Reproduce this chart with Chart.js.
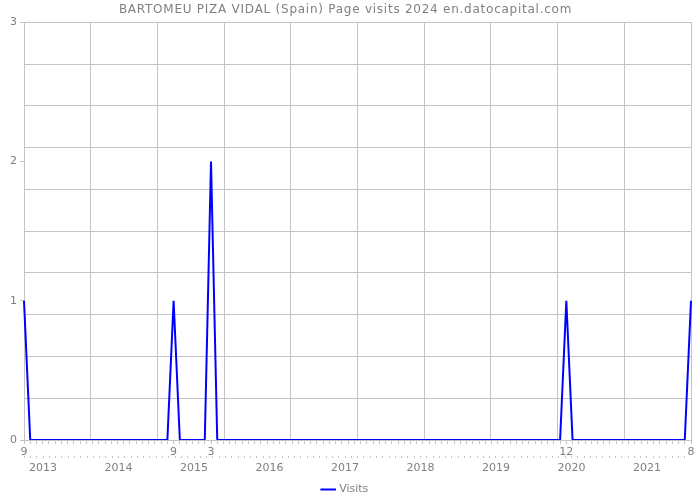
<!DOCTYPE html>
<html>
<head>
<meta charset="utf-8">
<script src="https://cdn.jsdelivr.net/npm/chart.js@4/dist/chart.umd.min.js"></script>
<style>
html,body{margin:0;padding:0;background:#fff;}
#wrap{width:700px;height:500px;}
</style>
</head>
<body>
<div id="wrap"><canvas id="c" width="700" height="500"></canvas></div>
<script>
// Months from 2012-09 to 2021-08
const months = [];
for (let y = 2012, m = 9; y < 2021 || (y === 2021 && m <= 8); m++) {
  if (m > 12) { m = 1; y++; }
  months.push(y + '-' + String(m).padStart(2, '0'));
}
const visits = [
  1,0,0,0,                  // 2012 Sep-Dec
  0,0,0,0,0,0,0,0,0,0,0,0,  // 2013
  0,0,0,0,0,0,0,0,1,0,0,0,  // 2014
  0,0,2,0,0,0,0,0,0,0,0,0,  // 2015
  0,0,0,0,0,0,0,0,0,0,0,0,  // 2016
  0,0,0,0,0,0,0,0,0,0,0,0,  // 2017
  0,0,0,0,0,0,0,0,0,0,0,0,  // 2018
  0,0,0,0,0,0,0,0,0,0,0,1,  // 2019
  0,0,0,0,0,0,0,0,0,0,0,0,  // 2020
  0,0,0,0,0,0,0,1           // 2021 Jan-Aug
];
const monthTickLabels = ['2012-09','2014-09','2015-03','2019-12','2021-08'];
const yearTickLabels = [2013,2014,2015,2016,2017,2018,2019,2020,2021];
const yTicks = [0,1,2,3];
// range of the year-label axis (in years)
const yearAxisMin = 2012.748;
const yearAxisMax = 2021.583;

const FONT = "'DejaVu Sans', sans-serif";
const gridColor = '#c4c4c4';
const textColor = '#808080';

const chart = new Chart(document.getElementById('c'), {
  type: 'line',
  data: {
    labels: months,
    datasets: [{
      label: 'Visits',
      data: visits,
      borderColor: '#0000ff',
      backgroundColor: '#0000ff',
      borderWidth: 2,
      pointRadius: 0,
      tension: 0,
      xAxisID: 'x',
      yAxisID: 'y'
    }]
  },
  options: {
    responsive: false,
    animation: false,
    layout: { padding: { left: 0, right: 9, top: 0, bottom: -5 } },
    plugins: {
      title: {
        display: true,
        text: 'BARTOMEU PIZA VIDAL (Spain) Page visits 2024 en.datocapital.com',
        color: textColor,
        font: { family: FONT, size: 12, weight: 'normal' },
        padding: { top: 3, bottom: 5 }
      },
      legend: {
        position: 'bottom',
        labels: {
          color: textColor,
          font: { family: FONT, size: 11 },
          usePointStyle: true,
          pointStyle: 'line',
          boxWidth: 16,
          padding: 3
        }
      },
      tooltip: { enabled: false }
    },
    scales: {
      x: {
        type: 'category',
        position: 'bottom',
        offset: false,
        grid: { drawOnChartArea: false, drawTicks: true, tickLength: 4, color: gridColor },
        border: { display: true, color: gridColor },
        ticks: {
          autoSkip: false,
          maxRotation: 0,
          color: textColor,
          font: { family: FONT, size: 11 },
          padding: 2,
          callback: function(v, i) {
            const l = months[i];
            return monthTickLabels.includes(l) ? String(parseInt(l.split('-')[1], 10)) : '';
          }
        },
        afterFit: s => { s.height = 16; }
      },
      x2: {
        type: 'linear',
        position: 'bottom',
        offset: false,
        min: yearAxisMin,
        max: yearAxisMax,
        afterBuildTicks: s => {
          const t = [];
          for (let k = Math.ceil(s.min * 12); k <= Math.floor(s.max * 12); k++) t.push({ value: k / 12 });
          s.ticks = t;
        },
        grid: { drawOnChartArea: false, drawTicks: true, tickLength: 2, color: gridColor },
        border: { display: false },
        ticks: {
          autoSkip: false,
          maxRotation: 0,
          color: textColor,
          font: { family: FONT, size: 11 },
          padding: 4,
          callback: function(v) {
            const r = Math.round(v);
            return (Math.abs(v - r) < 1e-6 && yearTickLabels.includes(r)) ? String(r) : '';
          }
        },
        afterFit: s => { s.height = 25; }
      },
      xg: {
        type: 'linear',
        position: 'top',
        min: 0, max: 10,
        grid: { color: gridColor, drawTicks: false },
        border: { display: false },
        ticks: { display: false, stepSize: 1 },
        afterFit: s => { s.height = 0; }
      },
      y: {
        type: 'linear',
        position: 'left',
        min: 0, max: 3,
        afterBuildTicks: s => { s.ticks = yTicks.map(v => ({ value: v })); },
        grid: { drawOnChartArea: false, drawTicks: true, tickLength: 4, color: gridColor },
        border: { display: true, color: gridColor },
        ticks: { color: textColor, font: { family: FONT, size: 11 }, padding: 3 },
        afterFit: s => { s.width = 24; }
      },
      yg: {
        type: 'linear',
        position: 'right',
        min: 0, max: 10,
        grid: { color: gridColor, drawTicks: false },
        border: { display: false },
        ticks: { display: false, stepSize: 1 },
        afterFit: s => { s.width = 0; }
      }
    }
  }
});

// Slightly wider letter spacing for the title, as in the reference
if (chart.titleBlock) {
  const tb = chart.titleBlock;
  const origDraw = tb.draw.bind(tb);
  tb.draw = function() {
    const ctx = chart.ctx;
    ctx.save();
    if ('letterSpacing' in ctx) ctx.letterSpacing = '0.75px';
    origDraw();
    ctx.restore();
  };
  chart.draw();
}
</script>
</body>
</html>
